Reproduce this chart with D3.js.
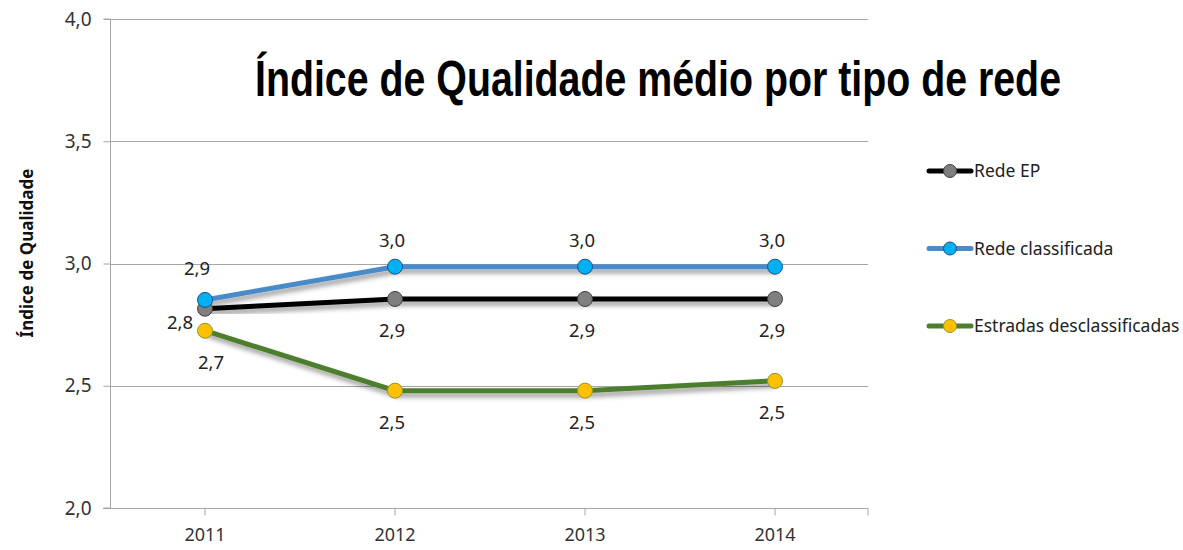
<!DOCTYPE html>
<html>
<head lang="pt">
    <meta charset="UTF-8">
    <title>Índice de Qualidade</title>
    <script src="https://cdn.jsdelivr.net/npm/d3@7"></script>
    <style>
        body{ margin:0; background:#fff; }
        svg text{ font-family:"Noto Sans", "Open Sans", sans-serif; fill:#222; }
        .grid line{ stroke:#a6a6a6; stroke-width:1; }
        .axis path, .axis line{ stroke:#a6a6a6; }
        .series{ fill:none; stroke-width:5; }
    </style>
</head>
<body>
<svg width="1183" height="550"></svg>
<script>
    var years = ["2011", "2012", "2013", "2014"];
    var redeEP = [2.815, 2.855, 2.855, 2.855];
    var redeClassificada = [2.851, 2.987, 2.987, 2.987];
    var estradasDesclassificadas = [2.725, 2.48, 2.48, 2.52];
    var yTicks = [2.0, 2.5, 3.0, 3.5, 4.0];

    var series = [
        {name: "Rede EP", values: redeEP, line: "#000000", fill: "#7f7f7f", stroke: "#404040", pos: "below", first: "left"},
        {name: "Rede classificada", values: redeClassificada, line: "#4a8bc9", fill: "#00b0f0", stroke: "#1f4e8c", pos: "above", first: "aboveleft"},
        {name: "Estradas desclassificadas", values: estradasDesclassificadas, line: "#4e7e2e", fill: "#ffc000", stroke: "#8a9a2a", pos: "below", first: "below"}
    ];

    var svg = d3.select("svg");
    var plotL = 110, plotR = 870, plotT = 19, plotB = 508;

    var x = d3.scaleBand().domain(years).range([plotL, plotR]);
    var y = d3.scaleLinear().domain([2, 4]).range([plotB, plotT]);
    var fmt = function (v) { return d3.format(".1f")(v).replace(".", ","); };

    var defs = svg.append("defs");
    var f = defs.append("filter").attr("id", "shadow").attr("x", "-10%").attr("y", "-50%").attr("width", "120%").attr("height", "200%");
    f.append("feDropShadow").attr("dx", 2).attr("dy", 4).attr("stdDeviation", 2.5).attr("flood-color", "#000").attr("flood-opacity", 0.4);

    // gridlines
    svg.append("g").attr("class", "grid")
        .selectAll("line").data(yTicks.slice(1)).enter().append("line")
        .attr("x1", plotL).attr("x2", plotR - 2)
        .attr("y1", function (d) { return Math.round(y(d)) + 0.5; })
        .attr("y2", function (d) { return Math.round(y(d)) + 0.5; });

    // y axis
    var yAxis = d3.axisLeft(y).tickValues(yTicks).tickSize(7).tickPadding(12).tickFormat(fmt);
    var gy = svg.append("g").attr("class", "axis").attr("transform", "translate(" + (plotL + 0.5) + ",0)").call(yAxis);
    gy.select(".domain").attr("d", "M-7," + plotT + "H0V" + plotB + "H-7");
    gy.selectAll("text").style("font-size", "19px").style("fill", "#333");

    // x axis
    var xAxis = d3.axisBottom(x).tickSize(7).tickPadding(13);
    var gx = svg.append("g").attr("class", "axis").attr("transform", "translate(0," + (plotB + 0.5) + ")").call(xAxis);
    gx.select(".domain").attr("d", "M" + (plotL - 7) + ",0H" + (plotR - 2) + "V7");
    gx.selectAll("text").style("font-size", "18px").style("fill", "#333");

    // y axis title
    svg.append("text")
        .attr("transform", "translate(33,253) rotate(-90)")
        .attr("text-anchor", "middle")
        .style("font-size", "17px").style("font-weight", "bold").style("fill", "#111")
        .text("Índice de Qualidade");

    // title
    svg.append("text")
        .attr("x", 658).attr("y", 96)
        .attr("text-anchor", "middle")
        .attr("textLength", 806).attr("lengthAdjust", "spacingAndGlyphs")
        .style("font-family", "'Liberation Sans Narrow', 'Liberation Sans', Arial, sans-serif")
        .style("font-size", "50px").style("font-weight", "bold").style("fill", "#000")
        .text("Índice de Qualidade médio por tipo de rede");

    var line = d3.line()
        .x(function (d, i) { return x(years[i]) + x.bandwidth() / 2; })
        .y(function (d) { return y(d); });

    var order = [2, 0, 1];
    order.forEach(function (k) {
        var s = series[k];
        svg.append("path").attr("class", "series")
            .attr("d", line(s.values))
            .attr("stroke", s.line)
            .attr("filter", "url(#shadow)");
    });
    order.forEach(function (k) {
        var s = series[k];
        svg.append("g").selectAll("circle").data(s.values).enter().append("circle")
            .attr("cx", function (d, i) { return x(years[i]) + x.bandwidth() / 2; })
            .attr("cy", function (d) { return y(d); })
            .attr("r", 7.5)
            .attr("fill", s.fill).attr("stroke", s.stroke).attr("stroke-width", 1);
    });

    // data labels
    series.forEach(function (s) {
        svg.append("g").selectAll("text").data(s.values).enter().append("text")
            .attr("text-anchor", function (d, i) { return i === 0 && s.first === "left" ? "end" : "middle"; })
            .attr("x", function (d, i) {
                var cx = x(years[i]) + x.bandwidth() / 2;
                if (i === 0 && s.first === "left") return cx - 12;
                if (i === 0 && s.first === "aboveleft") return cx - 8;
                if (i === 0 && s.first === "below") return cx + 6;
                return cx - 3;
            })
            .attr("y", function (d, i) {
                var cy = y(d);
                if (i === 0 && s.first === "left") return cy + 20;
                if (i === 0 && s.first === "aboveleft") return cy - 25;
                if (s.pos === "above") return cy - 20;
                return cy + 38;
            })
            .style("font-size", "18.5px").style("fill", "#222")
            .text(function (d) { return fmt(d); });
    });

    // legend
    var lg = svg.append("g").selectAll("g").data(series).enter().append("g")
        .attr("transform", function (d, i) { return "translate(929," + (171 + i * 77.5) + ")"; });
    lg.append("line").attr("x1", 0).attr("x2", 42).attr("y1", 0).attr("y2", 0)
        .attr("stroke", function (d) { return d.line; }).attr("stroke-width", 5).attr("stroke-linecap", "round");
    lg.append("circle").attr("cx", 21).attr("cy", 0).attr("r", 6.5)
        .attr("fill", function (d) { return d.fill; }).attr("stroke", function (d) { return d.stroke; });
    lg.append("text").attr("x", 45).attr("y", 6)
        .style("font-size", "17.5px").style("fill", "#222")
        .text(function (d) { return d.name; });
</script>
</body>
</html>
